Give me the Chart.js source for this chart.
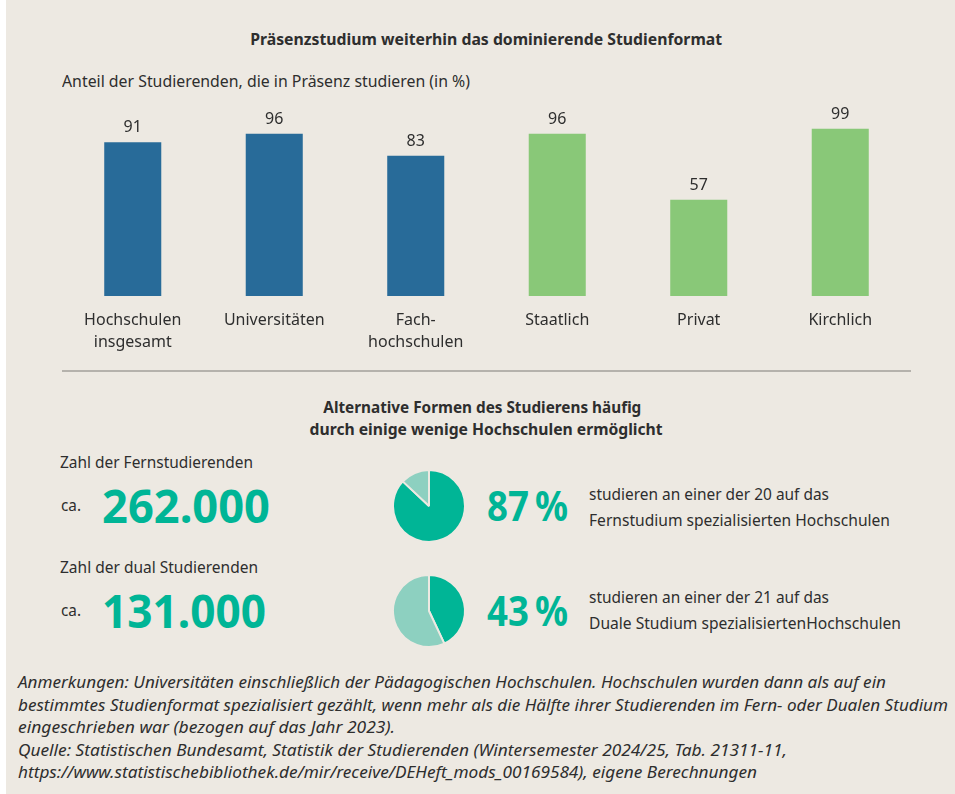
<!DOCTYPE html>
<html lang="de">
<head>
<meta charset="utf-8">
<script src="https://cdn.jsdelivr.net/npm/chart.js@4"></script>
<style>
  html, body { margin:0; padding:0; }
  body { width:955px; height:794px; overflow:hidden; background:#EDE9E2; font-family:"Noto Sans", sans-serif; color:#2e2e2e; }
  #stage { position:relative; width:955px; height:794px; background:#EDE9E2; }
  #strip { position:absolute; left:0; top:0; width:6px; height:794px; background:#ffffff; }
  .t { position:absolute; white-space:nowrap; line-height:1; }
  .c { transform-origin:center top; }
  .l { transform-origin:left top; }
  .b { font-weight:700; }
  .i { font-style:italic; }
  .teal { color:#00B596; font-weight:700; }
  #rule { position:absolute; left:62px; top:370px; width:849px; height:2px; background:#B5B2AC; }
  canvas { position:absolute; }
</style>
</head>
<body>
<div id="stage">
  <div id="strip"></div>

  <div class="t c b" data-cx="486" data-w="472" style="font-size:16px; top:31px;">Präsenzstudium weiterhin das dominierende Studienformat</div>
  <div class="t l" data-w="408" style="left:62px; font-size:16px; top:73px;">Anteil der Studierenden, die in Präsenz studieren (in %)</div>

  <canvas id="bars" width="955" height="365" style="left:0; top:0; width:955px; height:365px;"></canvas>

  <div id="rule"></div>

  <div class="t c b" data-cx="482" data-w="318" style="font-size:16px; top:399px;">Alternative Formen des Studierens häufig</div>
  <div class="t c b" data-cx="486" data-w="353" style="font-size:16px; top:421px;">durch einige wenige Hochschulen ermöglicht</div>

  <div class="t l" data-w="193" style="left:60px; font-size:16px; top:454px;">Zahl der Fernstudierenden</div>
  <div class="t l" data-w="20" style="left:61px; font-size:15.5px; top:498px;">ca.</div>
  <div class="t l teal" data-w="168" style="left:102px; font-size:46px; top:482px;">262.000</div>

  <div class="t l" data-w="198" style="left:60px; font-size:16px; top:559px;">Zahl der dual Studierenden</div>
  <div class="t l" data-w="20" style="left:61px; font-size:15.5px; top:603px;">ca.</div>
  <div class="t l teal" data-w="164" style="left:102px; font-size:46px; top:587px;">131.000</div>

  <canvas id="pie1" width="80" height="80" style="left:389px; top:466px; width:80px; height:80px;"></canvas>
  <canvas id="pie2" width="80" height="80" style="left:389px; top:571px; width:80px; height:80px;"></canvas>

  <div class="t l teal" data-w="81" style="left:487px; font-size:42px; top:484px;">87&#8201;%</div>
  <div class="t l teal" data-w="81" style="left:487px; font-size:42px; top:589px;">43&#8201;%</div>

  <div class="t l" data-w="240" style="left:589px; font-size:16px; top:486px;">studieren an einer der 20 auf das</div>
  <div class="t l" data-w="301" style="left:589px; font-size:16px; top:512px;">Fernstudium spezialisierten Hochschulen</div>
  <div class="t l" data-w="240" style="left:589px; font-size:16px; top:589px;">studieren an einer der 21 auf das</div>
  <div class="t l" data-w="312" style="left:589px; font-size:16px; top:615px;">Duale Studium spezialisiertenHochschulen</div>

  <div class="t l i" data-w="868" style="left:18px; font-size:16px; top:674px;">Anmerkungen: Universitäten einschließlich der Pädagogischen Hochschulen. Hochschulen wurden dann als auf ein</div>
  <div class="t l i" data-w="930" style="left:18px; font-size:16px; top:696.8px;">bestimmtes Studienformat spezialisiert gezählt, wenn mehr als die Hälfte ihrer Studierenden im Fern- oder Dualen Studium</div>
  <div class="t l i" data-w="377" style="left:18px; font-size:16px; top:719px;">eingeschrieben war (bezogen auf das Jahr 2023).</div>
  <div class="t l i" data-w="769" style="left:18px; font-size:16px; top:741.8px;">Quelle: Statistischen Bundesamt, Statistik der Studierenden (Wintersemester 2024/25, Tab. 21311-11,</div>
  <div class="t l i" data-w="739" style="left:18px; font-size:16px; top:764px;">https://www.statistischebibliothek.de/mir/receive/DEHeft_mods_00169584), eigene Berechnungen</div>
</div>

<script>
// ---- Data ----
const categories = [["Hochschulen", "insgesamt"], "Universitäten", ["Fach-", "hochschulen"], "Staatlich", "Privat", "Kirchlich"];
const praesenzShare = [91, 96, 83, 96, 57, 99];
const barColors = ["#286B99", "#286B99", "#286B99", "#89C878", "#89C878", "#89C878"];
const yTicks = [0, 100];

const fernLabels = ["spezialisierte Hochschulen", "übrige Hochschulen"];
const fernShare = [87, 13];
const dualLabels = ["spezialisierte Hochschulen", "übrige Hochschulen"];
const dualShare = [43, 57];
const pieColors = ["#00B596", "#8DD0C0"];

// ---- Text fitting (layout only) ----
function fitTexts() {
  document.querySelectorAll('[data-w]').forEach(el => {
    const target = parseFloat(el.dataset.w);
    const natural = el.getBoundingClientRect().width;
    const k = natural > 0 ? target / natural : 1;
    if (el.dataset.cx) {
      const cx = parseFloat(el.dataset.cx);
      el.style.left = (cx - natural / 2) + 'px';
      el.style.transformOrigin = (natural / 2) + 'px 0';
    }
    el.style.transform = 'scaleX(' + k.toFixed(4) + ')';
  });
}

const valueLabels = {
  id: 'valueLabels',
  afterDatasetsDraw(chart) {
    const ctx = chart.ctx;
    const meta = chart.getDatasetMeta(0);
    ctx.save();
    ctx.font = '16px "Noto Sans"';
    ctx.fillStyle = '#2e2e2e';
    ctx.textAlign = 'center';
    ctx.textBaseline = 'alphabetic';
    meta.data.forEach((bar, i) => {
      ctx.fillText(String(praesenzShare[i]), bar.x, bar.y - 10);
    });
    ctx.restore();
  }
};

function draw() {
  Chart.defaults.font.family = '"Noto Sans", sans-serif';
  Chart.defaults.color = '#2e2e2e';

  new Chart(document.getElementById('bars'), {
    type: 'bar',
    data: {
      labels: categories,
      datasets: [{
        data: praesenzShare,
        backgroundColor: barColors,
        borderWidth: 0,
        categoryPercentage: 1,
        barPercentage: 0.403
      }]
    },
    options: {
      responsive: false,
      devicePixelRatio: 1,
      animation: false,
      layout: { padding: { left: 62, right: 44, top: 127, bottom: 0 } },
      plugins: { legend: { display: false }, tooltip: { enabled: false }, title: { display: false } },
      scales: {
        x: {
          grid: { display: false, drawTicks: false },
          border: { display: false },
          ticks: { font: { size: 16, lineHeight: 1.35 }, color: '#2e2e2e', padding: 14, maxRotation: 0, autoSkip: false },
          afterFit: s => { s.height = 69; }
        },
        y: {
          display: false,
          min: yTicks[0],
          max: yTicks[1]
        }
      }
    },
    plugins: [valueLabels]
  });

  const pieOpts = {
    responsive: false,
    devicePixelRatio: 1,
    animation: false,
    layout: { padding: 3 },
    plugins: { legend: { display: false }, tooltip: { enabled: false } }
  };
  new Chart(document.getElementById('pie1'), {
    type: 'pie',
    data: { labels: fernLabels, datasets: [{ data: fernShare, backgroundColor: pieColors, borderColor: '#EDE9E2', borderWidth: 2 }] },
    options: pieOpts
  });
  new Chart(document.getElementById('pie2'), {
    type: 'pie',
    data: { labels: dualLabels, datasets: [{ data: dualShare, backgroundColor: pieColors, borderColor: '#EDE9E2', borderWidth: 2 }] },
    options: pieOpts
  });
}

(document.fonts && document.fonts.ready ? document.fonts.ready : Promise.resolve()).then(() => {
  fitTexts();
  draw();
});
</script>
</body>
</html>
